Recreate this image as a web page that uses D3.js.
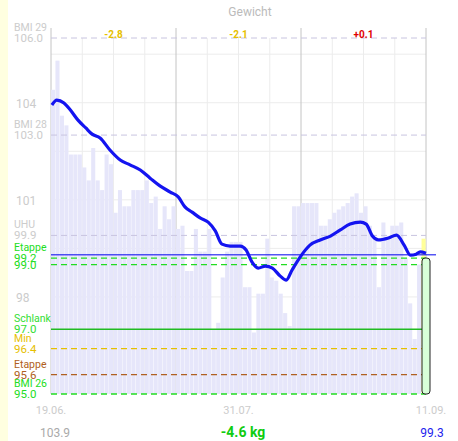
<!DOCTYPE html>
<html><head><meta charset="utf-8">
<script src="https://cdn.jsdelivr.net/npm/d3@7"></script>
<style>body{margin:0;background:#fff;font-family:Roboto,sans-serif}</style>
</head><body><svg id="c" width="458" height="441"></svg>
<script>
// daily weights (bars), day 0 = 19.06.
var barVals = [104.4,105.3,103.6,103.3,102.4,102.4,102.4,102.0,101.6,102.6,101.6,101.3,102.4,102.1,100.6,101.3,100.8,100.8,101.3,101.3,101.3,101.6,100.9,101.1,100.1,100.8,100.4,100.8,100.1,100.2,
  98.8,98.8,100.1,99.4,99.4,100.1,97.0,97.2,98.6,99.4,99.7,99.7,99.7,98.3,98.3,96.9,98.1,98.1,99.8,98.6,98.5,98.1,97.5,97.1,100.8,100.8,100.9,100.9,100.9,100.9,
  100.2,100.2,100.4,100.6,100.7,100.8,100.9,101.1,101.2,100.6,100.8,100.2,99.8,98.3,100.3,99.8,100.2,100.2,100.3,99.2,97.8,96.7,99.0,99.8];
// trend line
var trendDays = [0.2,1.3,2.9,4.3,6,7.8,9.2,11,13.2,15.5,17.7,20,22.2,24.4,26.7,28.5,30,31.6,33.4,35.2,36.8,38.3,40.1,42.4,43.7,45,46.4,48,49.6,51.3,52.7,54,55.8,58,60.3,62.6,64.8,67,69.3,70.6,72,73.3,75.6,77.4,79.1,80.5,81.8,82.7,84];
var trendVals = [103.93,104.08,103.99,103.78,103.47,103.22,103.03,102.91,102.54,102.23,102.08,101.92,101.67,101.43,101.24,101.09,100.78,100.62,100.44,100.31,100.04,99.63,99.57,99.57,99.45,99.08,98.89,98.95,98.89,98.65,98.52,98.83,99.23,99.6,99.76,99.88,100.07,100.25,100.31,100.25,99.88,99.76,99.82,99.91,99.6,99.29,99.32,99.39,99.35];
var yTicks = [104, 101, 98];
var refNames = ["BMI 29","BMI 28","UHU","Etappe","","Schlank","Min","Etappe","BMI 26"];
var refVals  = [106.0,103.0,99.9,99.2,99.0,97.0,96.4,95.6,95.0];
var refColors = ["#c8c4e0","#c8c4e0","#c8c4e0","#22dd22","#22dd22","#22bb22","#e6c000","#b06020","#22dd22"];
var refDash = [true,true,true,true,true,false,true,true,true];
var periodLabels = ["-2.8","-2.1","+0.1"];
var periodColors = ["#e6c000","#e6c000","#e00000"];
var dateLabels = ["19.06.","31.07.","11.09."];
var dateDays = [0, 42, 84];
var current = 99.3;

var svg = d3.select("#c");
var x = d3.scaleLinear().domain([0, 84]).range([51, 426]);
var y = d3.scaleLinear().domain([95, 106]).range([394, 38]);
var bw = x(1) - x(0);

svg.append("rect").attr("x",0).attr("y",0).attr("width",8).attr("height",441).attr("fill","#ffffe0");
svg.append("text").attr("x",250).attr("y",16).attr("text-anchor","middle").attr("fill","#bbb").attr("font-size",12).text("Gewicht");

// grid
svg.selectAll(".hg").data(d3.range(96.5, 106, 1.5)).enter().append("line")
  .attr("x1",51).attr("x2",426).attr("y1",d=>y(d)).attr("y2",d=>y(d)).attr("stroke","#ececec");
svg.selectAll(".vg").data(d3.range(7, 84, 7)).enter().append("line")
  .attr("x1",d=>x(d)).attr("x2",d=>x(d)).attr("y1",38).attr("y2",394)
  .attr("stroke",d=>d%28==0?"#c4c4c4":"#ececec");
svg.append("line").attr("x1",x(84)).attr("x2",x(84)).attr("y1",28).attr("y2",394).attr("stroke","#c4c4c4");
svg.append("line").attr("x1",51).attr("x2",51).attr("y1",28).attr("y2",394).attr("stroke","#c4c4c4");
[28,56].forEach(function(d){ svg.append("line").attr("x1",x(d)).attr("x2",x(d)).attr("y1",28).attr("y2",38).attr("stroke","#c4c4c4"); });

// bars
svg.selectAll(".bar").data(barVals).enter().append("rect")
  .attr("x",(d,i)=>x(i)).attr("width",bw-0.4)
  .attr("y",d=>y(d)).attr("height",d=>y(95)-y(d))
  .attr("fill",(d,i)=>i==83?"#ffff99":"#e6e6fa");

// reference lines
refVals.forEach(function(v,i){
  svg.append("line").attr("x1",51).attr("x2",426).attr("y1",y(v)).attr("y2",y(v))
    .attr("stroke",refColors[i]).attr("stroke-width",i<3?1:1.3)
    .attr("stroke-dasharray",refDash[i]?"6,4":null);
});
svg.append("line").attr("x1",51).attr("x2",436).attr("y1",y(current)).attr("y2",y(current)).attr("stroke","#0000ee");

// current day box
svg.append("rect").attr("x",x(84)-4).attr("y",y(99.2)).attr("width",8).attr("height",y(95)-y(99.2))
  .attr("rx",3).attr("fill","#d8ffd8").attr("stroke","#222");

// trend
var line = d3.line().x((d,i)=>x(trendDays[i])).y(d=>y(d)).curve(d3.curveMonotoneX);
svg.append("path").datum(trendVals).attr("d",line).attr("fill","none").attr("stroke","#1414f0").attr("stroke-width",3.2);

// y labels
svg.selectAll(".yt").data(yTicks).enter().append("text")
  .attr("x",16).attr("y",d=>y(d)+5).attr("fill","#ccc").attr("font-size",12).text(d=>d);
refVals.forEach(function(v,i){
  var c = i<3 ? "#ccc" : refColors[i];
  if (i==5) c = "#33dd33";
  var g = svg.append("g");
  if (refNames[i]) g.append("text").attr("x",14).attr("y",y(v)-7).attr("fill",c).attr("font-size",10.5).text(refNames[i]);
  g.append("text").attr("x",14).attr("y",y(v)+4).attr("fill",c).attr("font-size",11.5).text(v.toFixed(1));
});

// period labels
periodLabels.forEach(function(t,i){
  svg.append("text").attr("x",x(i*28+14)).attr("y",38).attr("text-anchor","middle")
    .attr("fill",periodColors[i]).attr("font-size",10).attr("font-weight","bold").text(t);
});

// date axis
dateLabels.forEach(function(t,i){
  svg.append("text").attr("x",x(dateDays[i])+(i==2?5:0)).attr("y",414).attr("text-anchor","middle")
    .attr("fill","#ccc").attr("font-size",11).text(t);
});
svg.append("text").attr("x",55).attr("y",437).attr("text-anchor","middle").attr("fill","#aaa").attr("font-size",12).text(trendVals[0].toFixed(1));
svg.append("text").attr("x",243).attr("y",437).attr("text-anchor","middle").attr("fill","#11cc11").attr("font-size",14).attr("font-weight","bold")
  .text((current-103.9).toFixed(1)+" kg");
svg.append("text").attr("x",432).attr("y",437).attr("text-anchor","middle").attr("fill","#2222ee").attr("font-size",12).text(current.toFixed(1));
</script></body></html>
